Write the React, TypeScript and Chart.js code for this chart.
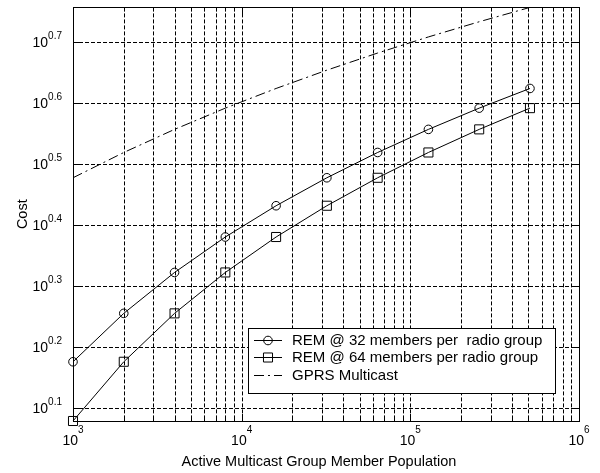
import React, { useEffect, useRef } from "react";
import { Chart, registerables } from "chart.js";

Chart.register(...registerables);

const xValues = [1000, 2000, 4000, 8000, 16000, 32000, 64000, 128000, 256000, 512000];
const rem32 = [1.5, 1.8, 2.1, 2.4, 2.7, 3.0, 3.3, 3.6, 3.9, 4.2];
const rem64 = [1.2, 1.5, 1.8, 2.1, 2.4, 2.7, 3.0, 3.3, 3.6, 3.9];
const gprs = [3.0, 3.3, 3.6, 3.9, 4.2, 4.5, 4.8, 5.1, 5.4, 5.7];

const seriesLabels = [
  "REM @ 32 members per  radio group",
  "REM @ 64 members per radio group",
  "GPRS Multicast",
];

const xMajorTicks = [1000, 10000, 100000, 1000000];
const xMajorExponents = ["3", "4", "5", "6"];
const xMinorTicks = [
  2000, 3000, 4000, 5000, 6000, 7000, 8000, 9000,
  20000, 30000, 40000, 50000, 60000, 70000, 80000, 90000,
  200000, 300000, 400000, 500000, 600000, 700000, 800000, 900000,
];
const yTickValues = [1.2589, 1.5849, 1.9953, 2.5119, 3.1623, 3.9811, 5.0119];
const yTickExponents = ["0.1", "0.2", "0.3", "0.4", "0.5", "0.6", "0.7"];

const xTitle = "Active Multicast Group Member Population";
const yTitle = "Cost";

const FONT = "'Liberation Sans', Arial, sans-serif";

const axesPlugin = {
  id: "matlabAxes",
  beforeDatasetsDraw(chart: any) {
    const { ctx, chartArea: a } = chart;
    const x = chart.scales.x;
    const y = chart.scales.y;
    ctx.save();
    ctx.strokeStyle = "#000";
    ctx.lineWidth = 1;
    ctx.setLineDash([4, 2]);
    const allX = [...xMajorTicks, ...xMinorTicks];
    for (const v of allX) {
      const px = Math.round(x.getPixelForValue(v)) + 0.5;
      if (px <= a.left + 1 || px >= a.right - 1) continue;
      ctx.beginPath();
      ctx.moveTo(px, a.top);
      ctx.lineTo(px, a.bottom);
      ctx.stroke();
    }
    for (const v of yTickValues) {
      const py = Math.round(y.getPixelForValue(v)) + 0.5;
      ctx.beginPath();
      ctx.moveTo(a.left, py);
      ctx.lineTo(a.right, py);
      ctx.stroke();
    }
    ctx.setLineDash([]);
    // tick marks (inward)
    const tick = (v: number, len: number) => {
      const px = Math.round(x.getPixelForValue(v)) + 0.5;
      ctx.beginPath();
      ctx.moveTo(px, a.bottom);
      ctx.lineTo(px, a.bottom - len);
      ctx.moveTo(px, a.top);
      ctx.lineTo(px, a.top + len);
      ctx.stroke();
    };
    xMajorTicks.forEach((v) => tick(v, 7));
    xMinorTicks.forEach((v) => tick(v, 4));
    for (const v of yTickValues) {
      const py = Math.round(y.getPixelForValue(v)) + 0.5;
      ctx.beginPath();
      ctx.moveTo(a.left, py);
      ctx.lineTo(a.left + 7, py);
      ctx.moveTo(a.right, py);
      ctx.lineTo(a.right - 7, py);
      ctx.stroke();
    }
    ctx.restore();
  },
  afterDatasetsDraw(chart: any) {
    const { ctx, chartArea: a } = chart;
    const x = chart.scales.x;
    const y = chart.scales.y;
    ctx.save();
    // axes box
    ctx.strokeStyle = "#000";
    ctx.lineWidth = 1;
    ctx.strokeRect(Math.round(a.left) + 0.5, Math.round(a.top) + 0.5, Math.round(a.right - a.left), Math.round(a.bottom - a.top));

    ctx.fillStyle = "#000";
    ctx.textBaseline = "alphabetic";
    const baseFont = `14px ${FONT}`;
    const supFont = `10px ${FONT}`;
    // x tick labels
    xMajorTicks.forEach((v, i) => {
      const px = x.getPixelForValue(v);
      ctx.font = baseFont;
      const wb = ctx.measureText("10").width;
      ctx.font = supFont;
      const ws = ctx.measureText(xMajorExponents[i]).width;
      const left = px - (wb + ws) / 2;
      ctx.font = baseFont;
      ctx.textAlign = "left";
      ctx.fillText("10", left, a.bottom + 24);
      ctx.font = supFont;
      ctx.fillText(xMajorExponents[i], left + wb, a.bottom + 12);
    });
    // y tick labels
    yTickValues.forEach((v, i) => {
      const py = y.getPixelForValue(v);
      ctx.font = supFont;
      const ws = ctx.measureText(yTickExponents[i]).width;
      ctx.font = baseFont;
      const wb = ctx.measureText("10").width;
      const right = a.left - 11;
      ctx.textAlign = "left";
      ctx.font = baseFont;
      ctx.fillText("10", right - ws - wb, py + 5);
      ctx.font = supFont;
      ctx.fillText(yTickExponents[i], right - ws, py - 3);
    });
    // titles
    ctx.font = `14.5px ${FONT}`;
    ctx.textAlign = "center";
    ctx.textBaseline = "middle";
    ctx.fillText(xTitle, 319, 462);
    ctx.save();
    ctx.translate(23, (a.top + a.bottom) / 2);
    ctx.rotate(-Math.PI / 2);
    ctx.fillText(yTitle, 0, 0);
    ctx.restore();

    // legend
    const bx = 248.5, by = 328.5, bw = 307, bh = 65;
    ctx.fillStyle = "#fff";
    ctx.fillRect(bx, by, bw, bh);
    ctx.strokeStyle = "#000";
    ctx.strokeRect(bx, by, bw, bh);
    const rows = [340.5, 357.5, 375.5];
    chart.data.datasets.forEach((ds: any, i: number) => {
      const ry = rows[i];
      ctx.strokeStyle = ds.borderColor;
      ctx.lineWidth = 1;
      ctx.setLineDash(ds.borderDash || []);
      ctx.beginPath();
      ctx.moveTo(254, ry);
      ctx.lineTo(282, ry);
      ctx.stroke();
      ctx.setLineDash([]);
      if (ds.pointRadius > 0) {
        ctx.beginPath();
        if (ds.pointStyle === "circle") {
          ctx.arc(268, ry, ds.pointRadius, 0, Math.PI * 2);
        } else {
          const s = ds.pointRadius * Math.SQRT1_2;
          ctx.rect(268 - s, ry - s, 2 * s, 2 * s);
        }
        ctx.stroke();
      }
      ctx.fillStyle = "#000";
      ctx.font = `15px ${FONT}`;
      ctx.textAlign = "left";
      ctx.textBaseline = "middle";
      ctx.fillText(ds.label, 292, ry);
    });
    ctx.restore();
  },
};

export default function App() {
  const ref = useRef<HTMLCanvasElement | null>(null);
  useEffect(() => {
    document.body.style.margin = "0";
    if (!ref.current) return;
    const mk = (ys: number[]) => xValues.map((xv, i) => ({ x: xv, y: ys[i] }));
    const chart = new Chart(ref.current, {
      type: "line",
      data: {
        datasets: [
          {
            label: seriesLabels[0],
            data: mk(rem32),
            borderColor: "#000",
            borderWidth: 1,
            pointStyle: "circle",
            pointRadius: 4.3,
            pointBorderColor: "#000",
            pointBackgroundColor: "rgba(0,0,0,0)",
            pointBorderWidth: 1,
            clip: false,
          } as any,
          {
            label: seriesLabels[1],
            data: mk(rem64),
            borderColor: "#000",
            borderWidth: 1,
            pointStyle: "rect",
            pointRadius: 6.4,
            pointBorderColor: "#000",
            pointBackgroundColor: "rgba(0,0,0,0)",
            pointBorderWidth: 1,
            clip: false,
          } as any,
          {
            label: seriesLabels[2],
            data: mk(gprs),
            borderColor: "#000",
            borderWidth: 1,
            borderDash: [10, 4, 2, 4],
            pointRadius: 0,
            clip: false,
          } as any,
        ],
      },
      options: {
        animation: false,
        responsive: false,
        events: [],
        layout: { padding: { left: 73, top: 7, right: 21, bottom: 52 } },
        plugins: { legend: { display: false }, tooltip: { enabled: false } },
        scales: {
          x: { type: "logarithmic", min: 1000, max: 1000000, display: false },
          y: { type: "logarithmic", min: 1.2, max: 5.7, display: false },
        },
      },
      plugins: [axesPlugin],
    });
    return () => chart.destroy();
  }, []);
  return (
    <div style={{ width: 600, height: 473 }}>
      <canvas ref={ref} width={600} height={473} style={{ display: "block" }} />
    </div>
  );
}
